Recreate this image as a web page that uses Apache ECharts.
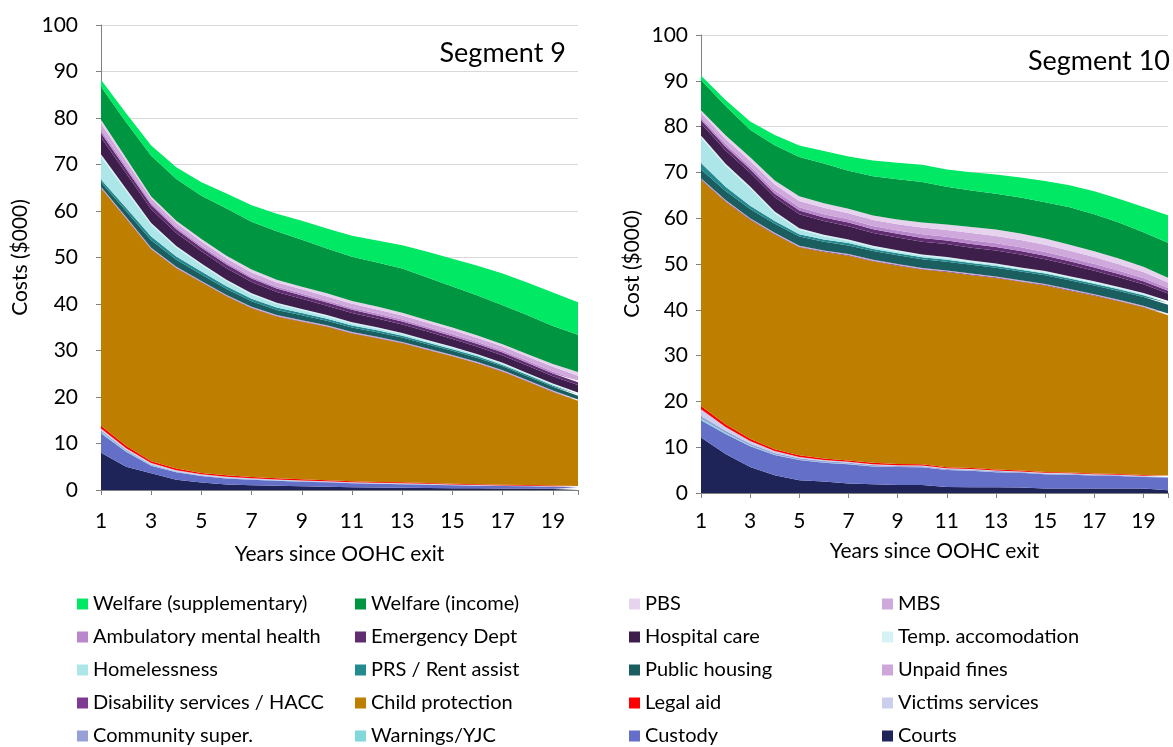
<!DOCTYPE html>
<html><head><meta charset="utf-8">
<script src="https://cdn.jsdelivr.net/npm/echarts@6/dist/echarts.min.js"></script>
<style>html,body{margin:0;padding:0;background:#fff}#c{width:1173px;height:747px}</style>
</head><body><div id="c"></div>
<script>
const years = [1,2,3,4,5,6,7,8,9,10,11,12,13,14,15,16,17,18,19,20];
const xTickLabels = [1,3,5,7,9,11,13,15,17,19];
const xTickMarks = [1,3,5,7,9,11,13,15,17,19,20];

// Series names, stacked bottom -> top
const names = ['Courts','Custody','Warnings/YJC','Community super.','Victims services','Legal aid','Child protection','Disability services / HACC','Unpaid fines','Public housing','PRS / Rent assist','Homelessness','Temp. accomodation','Hospital care','Emergency Dept','Ambulatory mental health','MBS','PBS','Welfare (income)','Welfare (supplementary)'];
const colors = ['#1F2458','#6470C8','#7FD8DA','#98A0D8','#CBCEEC','#FF0000','#BE7E00','#7E3A92','#CFA6DA','#1B5E60','#238A8F','#ACE6E9','#D5F2F4','#3E1F4B','#5F2D70','#B987CC','#CFA8DC','#E6D3EE','#009540','#00E864'];

// Segment 9
const courts9 = [8.0,5.0,3.6,2.2,1.6,1.2,1.0,0.9,0.8,0.7,0.6,0.55,0.5,0.45,0.4,0.35,0.3,0.3,0.25,0.2];
const custody9 = [4.2,3.2,1.6,1.6,1.4,1.3,1.2,1.1,1.0,0.95,0.85,0.8,0.75,0.7,0.6,0.55,0.55,0.5,0.45,0.4];
const warnings9 = [0.3,0.2,0.1,0.05,0.05,0.05,0.05,0.03,0.03,0.03,0.02,0.02,0.02,0.02,0.02,0.01,0.01,0.01,0.01,0.01];
const community9 = [0.3,0.25,0.2,0.15,0.12,0.1,0.1,0.08,0.08,0.07,0.06,0.05,0.05,0.05,0.04,0.04,0.03,0.03,0.03,0.03];
const victims9 = [0.4,0.35,0.3,0.25,0.2,0.2,0.18,0.16,0.15,0.14,0.13,0.12,0.12,0.11,0.1,0.1,0.1,0.09,0.09,0.08];
const legal9 = [0.6,0.5,0.4,0.35,0.3,0.3,0.28,0.26,0.24,0.22,0.2,0.2,0.2,0.18,0.18,0.16,0.16,0.15,0.15,0.15];
const child9 = [51.1,48.9,45.6,43.1,41.0,38.5,36.3,34.8,33.9,33.0,31.8,30.9,29.9,28.6,27.4,26.0,24.3,22.2,20.1,18.3];
const disab9 = [0.1,0.1,0.1,0.1,0.1,0.1,0.1,0.1,0.1,0.1,0.1,0.1,0.1,0.1,0.1,0.1,0.1,0.1,0.1,0.1];
const fines9 = [0.2,0.2,0.2,0.2,0.2,0.2,0.2,0.2,0.2,0.2,0.2,0.2,0.2,0.2,0.2,0.2,0.2,0.2,0.2,0.2];
const housing9 = [1.0,1.3,1.6,1.5,1.4,1.3,1.2,1.1,1.1,1.0,1.0,1.0,0.95,0.95,0.9,0.9,0.85,0.85,0.8,0.8];
const prs9 = [0.6,0.7,0.8,0.7,0.6,0.55,0.5,0.5,0.45,0.4,0.4,0.4,0.4,0.35,0.35,0.35,0.3,0.3,0.3,0.3];
const homeless9 = [4.8,3.6,2.5,1.9,1.4,1.1,0.9,0.75,0.6,0.5,0.45,0.4,0.35,0.3,0.3,0.25,0.25,0.2,0.2,0.2];
const temp9 = [0.6,0.5,0.4,0.35,0.35,0.3,0.3,0.3,0.3,0.3,0.25,0.25,0.25,0.25,0.2,0.2,0.2,0.2,0.2,0.2];
const hospital9 = [3.6,3.3,3.0,2.8,2.6,2.5,2.4,2.3,2.2,2.0,2.0,1.9,1.8,1.8,1.7,1.6,1.6,1.6,1.6,1.6];
const ed9 = [1.0,0.95,0.9,0.85,0.8,0.8,0.75,0.75,0.7,0.7,0.7,0.65,0.65,0.6,0.6,0.6,0.6,0.6,0.6,0.6];
const amh9 = [0.6,0.5,0.4,0.4,0.4,0.4,0.4,0.4,0.4,0.4,0.4,0.4,0.4,0.4,0.4,0.4,0.4,0.4,0.4,0.4];
const mbs9 = [1.4,1.2,1.0,0.9,0.9,0.9,0.9,0.9,0.9,0.9,0.9,0.9,0.9,0.9,0.9,0.9,0.9,0.9,1.0,1.0];
const pbs9 = [0.8,0.65,0.4,0.5,0.55,0.55,0.65,0.6,0.55,0.7,0.6,0.6,0.6,0.55,0.55,0.5,0.5,0.55,0.6,0.8];
const income9 = [7.1,7.7,8.8,9.0,9.3,10.2,10.3,10.4,10.1,9.6,9.5,9.5,9.5,9.2,8.8,8.6,8.4,8.4,8.2,8.0];
const supp9 = [1.5,1.9,2.2,2.5,2.9,3.2,3.5,3.8,4.1,4.3,4.5,4.7,5.0,5.5,6.0,6.4,6.8,7.0,7.2,7.0];

// Segment 10
const courts10 = [12.1,8.5,5.7,3.9,2.8,2.5,2.1,1.9,1.75,1.75,1.3,1.25,1.25,1.2,1.0,1.0,1.0,1.0,1.0,0.6];
const custody10 = [3.8,4.4,4.5,4.4,4.4,4.1,4.2,3.9,3.9,3.85,3.7,3.6,3.3,3.2,3.1,3.0,2.8,2.7,2.5,2.8];
const warnings10 = [0.3,0.2,0.15,0.1,0.08,0.07,0.06,0.05,0.05,0.05,0.04,0.04,0.04,0.03,0.03,0.03,0.03,0.03,0.03,0.03];
const community10 = [0.6,0.5,0.4,0.35,0.3,0.3,0.25,0.25,0.2,0.2,0.2,0.2,0.2,0.15,0.15,0.15,0.15,0.15,0.15,0.15];
const victims10 = [1.5,0.8,0.6,0.4,0.3,0.25,0.2,0.2,0.18,0.18,0.16,0.15,0.14,0.13,0.12,0.12,0.1,0.1,0.1,0.1];
const legal10 = [0.7,0.6,0.5,0.4,0.35,0.3,0.3,0.28,0.26,0.25,0.24,0.22,0.2,0.2,0.2,0.18,0.18,0.16,0.16,0.15];
const child10 = [49.4,48.6,47.8,46.9,45.4,45.1,44.7,44.0,43.3,42.5,42.6,42.1,41.8,41.2,40.7,39.7,38.8,37.7,36.6,35.0];
const disab10 = [0.15,0.15,0.15,0.15,0.15,0.15,0.15,0.15,0.15,0.15,0.15,0.15,0.15,0.15,0.15,0.15,0.15,0.15,0.15,0.15];
const fines10 = [0.2,0.2,0.2,0.2,0.2,0.2,0.2,0.2,0.2,0.2,0.2,0.2,0.2,0.2,0.2,0.2,0.2,0.2,0.2,0.2];
const housing10 = [1.9,2.0,2.0,2.0,2.0,1.9,1.9,1.9,1.9,1.9,1.9,1.9,1.9,1.9,1.9,1.9,1.9,1.9,1.9,1.9];
const prs10 = [1.4,0.9,0.7,0.6,0.5,0.5,0.5,0.45,0.45,0.45,0.45,0.4,0.4,0.4,0.4,0.4,0.4,0.4,0.4,0.4];
const homeless10 = [5.5,4.6,3.8,1.7,1.0,0.7,0.5,0.4,0.35,0.3,0.3,0.25,0.25,0.2,0.2,0.2,0.2,0.2,0.2,0.2];
const temp10 = [0.5,0.45,0.4,0.35,0.3,0.3,0.3,0.3,0.3,0.3,0.3,0.3,0.3,0.3,0.3,0.3,0.3,0.3,0.3,0.3];
const hospital10 = [2.6,2.9,3.0,3.1,3.1,3.0,2.9,2.8,2.8,2.8,2.8,2.8,2.8,2.8,2.6,2.5,2.3,2.1,1.9,1.6];
const ed10 = [0.8,0.8,0.8,0.8,0.8,0.8,0.8,0.8,0.8,0.8,0.8,0.8,0.8,0.8,0.75,0.75,0.7,0.7,0.65,0.6];
const amh10 = [0.5,0.6,0.6,0.7,0.7,0.7,0.7,0.7,0.7,0.8,0.8,0.8,0.8,0.8,0.8,0.8,0.8,0.75,0.7,0.6];
const mbs10 = [1.0,1.1,1.2,1.3,1.4,1.4,1.3,1.3,1.4,1.5,1.5,1.6,1.6,1.6,1.6,1.5,1.5,1.4,1.3,1.2];
const pbs10 = [0.6,0.8,0.8,0.9,1.0,1.0,1.0,1.0,1.0,1.1,1.2,1.3,1.4,1.4,1.35,1.35,1.3,1.25,1.15,1.0];
const income10 = [6.6,6.4,6.0,7.7,8.6,8.7,8.3,8.6,8.8,8.8,8.2,8.0,7.8,7.85,7.95,8.15,8.05,7.85,7.55,7.65];
const supp10 = [1.0,1.3,1.8,2.2,2.5,2.7,3.1,3.4,3.6,3.8,3.8,4.0,4.2,4.4,4.6,4.8,5.0,5.2,5.5,6.0];

// Legend columns (row-major reading, as in the reference)
const legendCol1 = ['Welfare (supplementary)','Ambulatory mental health','Homelessness','Disability services / HACC','Community super.'];
const legendCol2 = ['Welfare (income)','Emergency Dept','PRS / Rent assist','Child protection','Warnings/YJC'];
const legendCol3 = ['PBS','Hospital care','Public housing','Legal aid','Custody'];
const legendCol4 = ['MBS','Temp. accomodation','Unpaid fines','Victims services','Courts'];

const seg9 = [courts9,custody9,warnings9,community9,victims9,legal9,child9,disab9,fines9,housing9,prs9,homeless9,temp9,hospital9,ed9,amh9,mbs9,pbs9,income9,supp9];
const seg10 = [courts10,custody10,warnings10,community10,victims10,legal10,child10,disab10,fines10,housing10,prs10,homeless10,temp10,hospital10,ed10,amh10,mbs10,pbs10,income10,supp10];

const FONT = 'Lato';
const axisGray = '#808080';

function buildSeries(arrs, idx, stack) {
  return arrs.map((a, i) => ({
    name: names[i], type: 'line', stack: stack,
    xAxisIndex: idx, yAxisIndex: idx,
    symbol: 'none', showSymbol: false,
    color: colors[i],
    lineStyle: { width: 0 },
    areaStyle: { color: colors[i], opacity: 1 },
    emphasis: { disabled: true },
    // value first so that the library stacks the value dimension
    encode: { x: 1, y: 0 },
    data: years.map((x, j) => [a[j], x])
  }));
}

function xAxis(idx, nameGap, labelMargin) {
  return {
    type: 'value', gridIndex: idx, min: 1, max: 20,
    name: 'Years since OOHC exit', nameLocation: 'middle', nameGap: nameGap,
    nameTextStyle: { fontFamily: FONT, fontSize: 21, color: '#000' },
    axisLine: { show: true, lineStyle: { color: axisGray, width: 1 } },
    axisTick: { show: true, length: 5, customValues: xTickMarks, lineStyle: { color: axisGray } },
    axisLabel: { customValues: xTickLabels, margin: labelMargin, fontFamily: FONT, fontSize: 21, color: '#000' },
    splitLine: { show: false }
  };
}
function yAxis(idx, name, nameGap, labelMargin) {
  return {
    type: 'value', gridIndex: idx, min: 0, max: 100, interval: 10,
    name: name, nameLocation: 'middle', nameGap: nameGap,
    nameTextStyle: { fontFamily: FONT, fontSize: 21, color: '#000' },
    axisLine: { show: true, lineStyle: { color: axisGray, width: 1 } },
    axisTick: { show: true, length: 5, lineStyle: { color: axisGray } },
    axisLabel: { margin: labelMargin, fontFamily: FONT, fontSize: 21, color: '#000' },
    splitLine: { show: true, lineStyle: { color: '#D9D9D9', width: 1 } }
  };
}
function legend(data, left) {
  return {
    data: data, orient: 'vertical', left: left, top: 594, padding: 0,
    icon: 'rect', itemWidth: 11, itemHeight: 11, itemGap: 13,
    selectedMode: false,
    textStyle: { fontFamily: FONT, fontSize: 20, color: '#000', lineHeight: 20 }
  };
}

const chart = echarts.init(document.getElementById('c'), null, { renderer: 'canvas' });
chart.setOption({
  animation: false,
  backgroundColor: '#fff',
  textStyle: { fontFamily: FONT },
  grid: [
    { left: 101, top: 25, width: 477, height: 465 },
    { left: 701, top: 35, width: 467, height: 458 }
  ],
  xAxis: [xAxis(0, 54, 21), xAxis(1, 48, 18)],
  yAxis: [yAxis(0, 'Costs ($000)', 70, 23), yAxis(1, 'Cost ($000)', 58, 13)],
  legend: [legend(legendCol1, 77), legend(legendCol2, 355), legend(legendCol3, 629), legend(legendCol4, 882)],
  graphic: [
    { type: 'text', x: 566, y: 53, z: 100, style: { text: 'Segment 9', font: '27px Lato', fill: '#000', align: 'right', verticalAlign: 'middle' } },
    { type: 'text', x: 1170, y: 61, z: 100, style: { text: 'Segment 10', font: '27px Lato', fill: '#000', align: 'right', verticalAlign: 'middle' } }
  ],
  series: buildSeries(seg9, 0, 's9').concat(buildSeries(seg10, 1, 's10'))
});
</script>
</body></html>
